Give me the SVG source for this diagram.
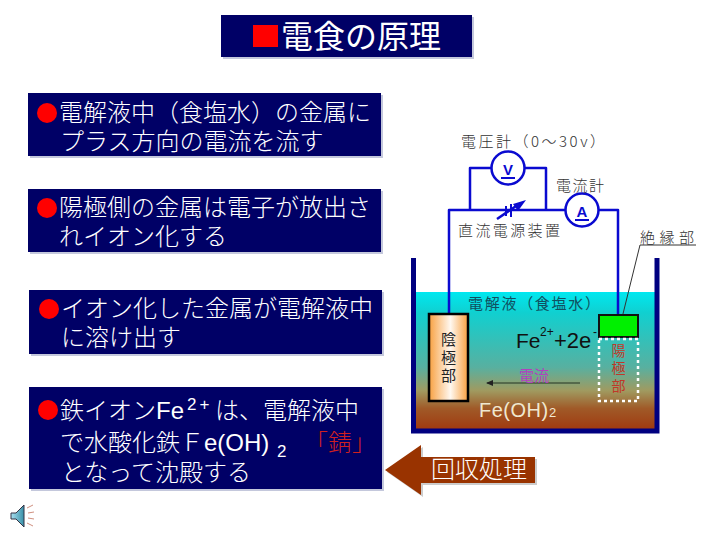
<svg xmlns="http://www.w3.org/2000/svg" width="720" height="540" viewBox="0 0 720 540">
<style>
text{font-family:"Noto Sans CJK JP","Liberation Sans",sans-serif;}
.box{fill:#000066;}
.sh{fill:#c4c8dc;}
.t{font-size:24px;fill:#fff;font-weight:300;}
.lat{font-family:"Liberation Sans",sans-serif;}
.w{fill:none;stroke:#0a0ad0;stroke-width:2.500;stroke-linejoin:round;}
.m{fill:#fff;stroke:#0a0ad0;stroke-width:2.500;}
.l{font-size:15px;fill:#333;font-weight:300;}
</style>
<defs>
<linearGradient id="liq" x1="0" y1="0" x2="0" y2="1">
<stop offset="0" stop-color="#00e8f0"/><stop offset=".15" stop-color="#10d0d0"/><stop offset=".55" stop-color="#58b0a0"/><stop offset=".72" stop-color="#a09a60"/><stop offset=".85" stop-color="#a05a28"/><stop offset="1" stop-color="#a03a10"/>
</linearGradient>
<linearGradient id="cath" x1="0" y1="0" x2="1" y2="0">
<stop offset="0" stop-color="#f8a040"/><stop offset=".55" stop-color="#fff8f0"/><stop offset="1" stop-color="#f8a040"/>
</linearGradient>
<linearGradient id="spk" x1="0" y1="0" x2="1" y2="0">
<stop offset="0" stop-color="#a8e0f0"/><stop offset="1" stop-color="#3890a8"/>
</linearGradient>
<marker id="ah" markerWidth="7" markerHeight="6" refX="6" refY="3" orient="auto"><path d="M0 0L7 3L0 6Z" fill="#222"/></marker>
</defs>
<rect width="720" height="540" fill="#fff"/>

<g id="title">
<rect class="sh" x="223" y="17" width="251" height="42"/>
<rect class="box" x="221" y="15" width="251" height="42"/>
<rect x="253" y="25" width="25" height="22" fill="#f00"/>
<text x="281" y="48" font-size="32" fill="#fff">電食の原理</text>
</g>

<g id="box1">
<rect class="sh" x="30" y="95" width="353" height="63"/>
<rect class="box" x="28" y="93" width="353" height="63"/>
<circle cx="47" cy="113" r="10" fill="#f00"/>
<text class="t" x="59" y="121">電解液中（食塩水）の金属に</text>
<text class="t" x="60" y="150">プラス方向の電流を流す</text>
</g>

<g id="box2">
<rect class="sh" x="30" y="191" width="353" height="63"/>
<rect class="box" x="28" y="189" width="353" height="63"/>
<circle cx="47" cy="208" r="10" fill="#f00"/>
<text class="t" x="59" y="216">陽極側の金属は電子が放出さ</text>
<text class="t" x="59" y="245">れイオン化する</text>
</g>

<g id="box3">
<rect class="sh" x="31" y="292" width="353" height="64"/>
<rect class="box" x="29" y="290" width="353" height="64"/>
<circle cx="49" cy="309" r="10" fill="#f00"/>
<text class="t" x="61" y="317">イオン化した金属が電解液中</text>
<text class="t" x="61" y="346">に溶け出す</text>
</g>

<g id="box4">
<rect class="sh" x="31" y="389" width="353" height="102"/>
<rect class="box" x="29" y="387" width="353" height="102"/>
<circle cx="48" cy="410" r="10" fill="#f00"/>
<text class="t" x="60" y="419">鉄イオン</text>
<text class="lat" x="156" y="419" font-size="24" fill="#fff">Fe</text>
<text class="lat" x="187" y="410" font-size="17" fill="#fff" letter-spacing="3">2+</text>
<text class="t" x="215" y="419">は、電解液中</text>
<text class="t" x="60" y="451">で水酸化鉄Ｆ</text>
<text class="lat" x="204" y="451" font-size="24" fill="#fff">e(OH)</text>
<text class="lat" x="277" y="457" font-size="17" fill="#fff">2</text>
<text x="304" y="451" font-size="24" font-weight="300" fill="#d02020">「錆」</text>
<text class="t" x="61" y="481">となって沈殿する</text>
</g>

<g id="tank">
<rect x="415" y="292" width="240" height="137" fill="url(#liq)"/>
<path d="M413.500 258V431H657V258" fill="none" stroke="#000080" stroke-width="5"/>
</g>

<g id="connectors">
<path class="w" d="M449 313V210H618V315"/>
<path class="w" d="M470 210V168H546V210"/>
<path d="M497 219L519 204" stroke="#0a0ad0" stroke-width="2.500" fill="none"/>
<path d="M526 200L513 204L518 211Z" fill="#0a0ad0"/>
<path d="M506 206V216M511 204V217" stroke="#0a0ad0" stroke-width="2" fill="none"/>
<path d="M696 245H640L620 326" stroke="#333" stroke-width="1" fill="none" marker-end="url(#ah)"/>
<path d="M580 383H487" stroke="#223322" stroke-width="1" fill="none" marker-end="url(#ah)"/>
</g>

<g id="voltmeter">
<circle class="m" cx="508" cy="168" r="16.500"/>
<text class="lat" x="508" y="175" font-size="15" font-weight="bold" fill="#0a0ad0" text-anchor="middle">V</text>
<path d="M501 178H515" stroke="#0a0ad0" stroke-width="2"/>
<text class="l" x="461" y="147" textLength="144" lengthAdjust="spacing">電圧計（0〜30v）</text>
</g>

<g id="ammeter">
<circle class="m" cx="582" cy="210" r="16.500"/>
<text class="lat" x="582" y="217" font-size="15" font-weight="bold" fill="#0a0ad0" text-anchor="middle">A</text>
<path d="M575 220H589" stroke="#0a0ad0" stroke-width="2"/>
<text class="l" x="556" y="191" textLength="48" lengthAdjust="spacing">電流計</text>
</g>

<g id="power">
<text class="l" x="458" y="236" textLength="102" lengthAdjust="spacing">直流電源装置</text>
</g>

<g id="insulator">
<rect x="599" y="315" width="39" height="22" fill="#00f000" stroke="#111" stroke-width="2"/>
<text class="l" x="640" y="243" textLength="54" lengthAdjust="spacing">絶縁部</text>
</g>

<g id="cathode">
<rect x="429" y="314" width="39" height="87" fill="url(#cath)" stroke="#000" stroke-width="2.500"/>
<text x="448.500" y="345" font-size="15" fill="#222" text-anchor="middle">陰</text>
<text x="448.500" y="363" font-size="15" fill="#222" text-anchor="middle">極</text>
<text x="448.500" y="381" font-size="15" fill="#222" text-anchor="middle">部</text>
</g>

<g id="anode">
<rect x="599" y="339" width="39" height="62" fill="none" stroke="#fff" stroke-width="2.500" stroke-dasharray="3 3"/>
<text x="618.500" y="356" font-size="14" fill="#c03828" text-anchor="middle">陽</text>
<text x="618.500" y="373" font-size="14" fill="#c03828" text-anchor="middle">極</text>
<text x="618.500" y="391" font-size="14" fill="#c03828" text-anchor="middle">部</text>
</g>

<g id="liquid-labels">
<text x="468" y="309" font-size="15" fill="#105060" textLength="132" lengthAdjust="spacing">電解液（食塩水）</text>
<text class="lat" x="516" y="348" font-size="21" fill="#111">Fe</text>
<text class="lat" x="540" y="336" font-size="12" fill="#111">2+</text>
<text class="lat" x="554" y="348" font-size="22" fill="#111">+2e</text>
<text class="lat" x="593" y="336" font-size="12" fill="#111">-</text>
<text x="519" y="381" font-size="15" fill="#b040c0">電流</text>
<text class="lat" x="479" y="417" font-size="20" fill="#f0e8d0" letter-spacing=".5">Fe(OH)</text>
<text class="lat" x="549" y="417" font-size="13" fill="#f0e8d0">2</text>
</g>

<g id="recovery">
<path d="M387 472L423 447V459H537V485H423V497Z" fill="#ccc"/>
<path d="M385 470L421 445V457H535V483H421V495Z" fill="#993300"/>
<text x="431" y="478" font-size="24" font-weight="300" fill="#fff">回収処理</text>
</g>

<g id="speaker">
<path d="M11 513H16L24 505V527L16 519H11Z" fill="url(#spk)" stroke="#334" stroke-width="1"/>
<path d="M27 508L33 505M28 513L34 512M28 518L34 519M27 523L33 526" stroke="#d09080" stroke-width="1" fill="none"/>
</g>
</svg>
